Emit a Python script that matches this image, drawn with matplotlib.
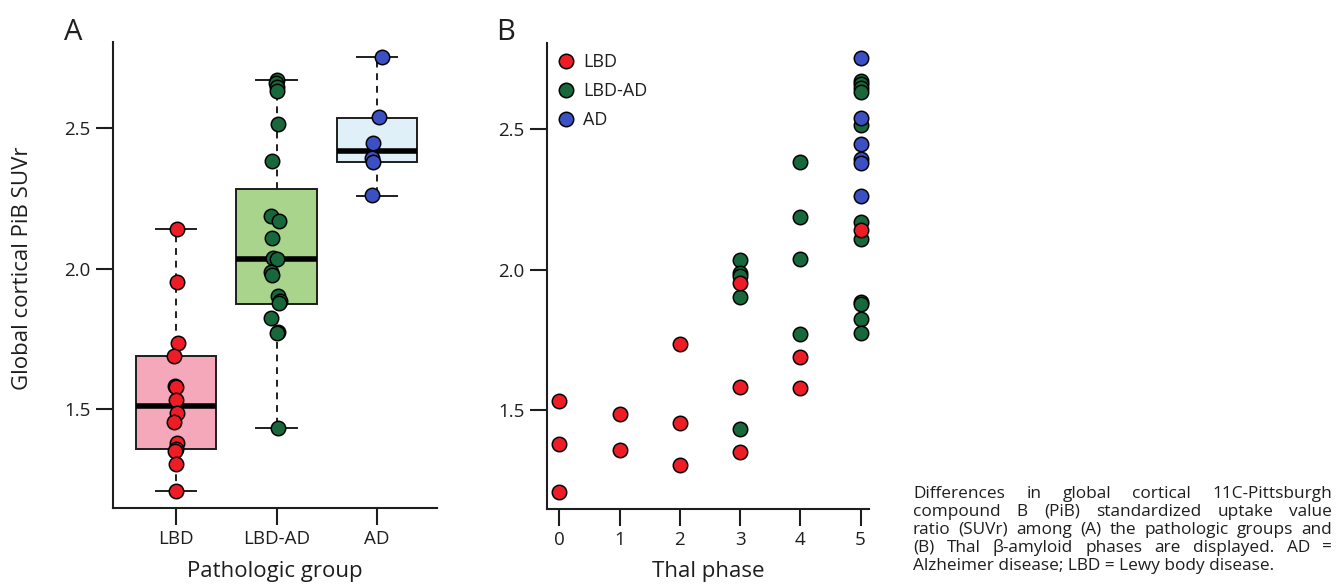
import matplotlib
matplotlib.use("Agg")
import matplotlib.pyplot as plt
from matplotlib.lines import Line2D

plt.rcParams['font.family'] = ['Open Sans', 'DejaVu Sans']

# ---------------- data ----------------
groups = ['LBD', 'LBD-AD', 'AD']

lbd_suvr = [2.139, 1.953, 1.736, 1.688, 1.582, 1.577, 1.532, 1.487, 1.454, 1.381, 1.357, 1.351, 1.306, 1.208]
lbd_thal = [5, 3, 2, 4, 3, 4, 0, 1, 2, 0, 1, 3, 2, 0]
lbd_jitter = [0.01, 0.01, 0.02, -0.02, -0.01, 0.0, 0.0, 0.01, -0.02, 0.01, 0.0, -0.01, 0.0, 0.0]

lbdad_suvr = [2.671, 2.660, 2.645, 2.632, 2.513, 2.381, 2.187, 2.168, 2.110, 2.036,
              2.034, 1.986, 1.978, 1.902, 1.884, 1.876, 1.825, 1.773, 1.769, 1.431]
lbdad_thal = [5, 5, 5, 5, 5, 4, 4, 5, 5, 4, 3, 3, 3, 3, 5, 5, 5, 5, 4, 3]
lbdad_jitter = [0.0, -0.01, 0.0, 0.0, 0.01, -0.04, -0.05, 0.02, -0.04, -0.03,
                0.0, -0.05, -0.04, 0.01, 0.03, 0.02, -0.05, 0.01, 0.0, 0.01]

ad_suvr = [2.752, 2.540, 2.446, 2.392, 2.380, 2.260]
ad_thal = [5, 5, 5, 5, 5, 5]
ad_jitter = [0.05, 0.02, -0.04, -0.05, -0.04, -0.05]

# box statistics
box_whislo = [1.208, 1.431, 2.259]
box_q1 = [1.357, 1.874, 2.380]
box_med = [1.511, 2.034, 2.418]
box_q3 = [1.690, 2.282, 2.537]
box_whishi = [2.139, 2.671, 2.752]

y_ticks = [1.5, 2.0, 2.5]
thal_ticks = [0, 1, 2, 3, 4, 5]

caption_lines = [
    "Differences in global cortical 11C-Pittsburgh",
    "compound B (PiB) standardized uptake value",
    "ratio (SUVr) among (A) the pathologic groups and",
    "(B) Thal \u03b2-amyloid phases are displayed. AD =",
    "Alzheimer disease; LBD = Lewy body disease.",
]

# ---------------- styles ----------------
pt_colors = ['#ee1d25', '#17683a', '#3b50c2']
box_colors = ['#f5a8b9', '#a8d58b', '#dff0f8']
ink = '#1e1e1e'
msize = 108

W, H = 1338, 585
fig = plt.figure(figsize=(W / 100, H / 100), dpi=100)


def px_rect(l, t, r, b):
    return [l / W, 1 - b / H, (r - l) / W, (b - t) / H]


axA = fig.add_axes(px_rect(113, 42, 437, 508))
axB = fig.add_axes(px_rect(547, 43, 869, 509))

for ax in (axA, axB):
    for s in ('top', 'right'):
        ax.spines[s].set_visible(False)
    for s in ('left', 'bottom'):
        ax.spines[s].set_linewidth(1.5)
        ax.spines[s].set_color(ink)
    ax.tick_params(length=12, width=1.5, color=ink, labelcolor=ink, labelsize=13.5, pad=4)
    ax.set_ylim(1.148, 2.806)
    ax.set_yticks(y_ticks)
    ax.set_yticklabels([f"{v:.1f}" for v in y_ticks])

# ---------------- panel A ----------------
stats = []
for i, g in enumerate(groups):
    stats.append(dict(label=g, whislo=box_whislo[i], q1=box_q1[i], med=box_med[i],
                      q3=box_q3[i], whishi=box_whishi[i], fliers=[]))
positions = [1, 2, 3]
bp = axA.bxp(stats, positions=positions, widths=0.8, capwidths=0.4, patch_artist=True,
             showfliers=False,
             boxprops=dict(linewidth=1.4, edgecolor=ink),
             whiskerprops=dict(linewidth=1.4, color=ink, linestyle=(0, (3.5, 3))),
             capprops=dict(linewidth=1.4, color=ink),
             medianprops=dict(linewidth=4, color='black', solid_capstyle='butt'))
for patch, c in zip(bp['boxes'], box_colors):
    patch.set_facecolor(c)

for pos, vals, jit, c in zip(positions, [lbd_suvr, lbdad_suvr, ad_suvr],
                             [lbd_jitter, lbdad_jitter, ad_jitter], pt_colors):
    xs = [pos + j for j in jit]
    axA.scatter(xs, vals, s=msize, color=c, edgecolor='black', linewidth=1.1, zorder=4)

axA.set_xlim(0.373, 3.597)
axA.set_xticks(positions)
axA.set_xticklabels(groups)
axA.set_xlabel('Pathologic group', fontsize=16, color=ink, va='baseline')
axA.xaxis.set_label_coords(0.5, -(577 - 508) / 466)
axA.set_ylabel('Global cortical PiB SUVr', fontsize=16, color=ink, va='center', ha='center')
axA.yaxis.set_label_coords((23 - 113) / 324, (508 - 268) / 466)

# ---------------- panel B ----------------
for thal, vals, c, z in [(lbdad_thal, lbdad_suvr, pt_colors[1], 3),
                         (lbd_thal, lbd_suvr, pt_colors[0], 4),
                         (ad_thal, ad_suvr, pt_colors[2], 5)]:
    axB.scatter(thal, vals, s=msize, color=c, edgecolor='black', linewidth=1.1, zorder=z)

axB.set_xlim(-0.204, 5.14)
axB.set_xticks(thal_ticks)
axB.set_xticklabels([str(t) for t in thal_ticks])
axB.set_xlabel('Thal phase', fontsize=16, color=ink, va='baseline')
axB.xaxis.set_label_coords(0.5, -(577 - 509) / 466)

handles = [Line2D([], [], linestyle='none', marker='o', markersize=10.4, markerfacecolor=c,
                  markeredgecolor='black', markeredgewidth=1.1) for c in pt_colors]
axB.legend(handles, groups, loc='upper left', bbox_to_anchor=(0.032, 0.978), frameon=False,
           fontsize=13, borderpad=0, borderaxespad=0, handlelength=1.0, handletextpad=0.45,
           labelspacing=0.6, labelcolor=ink)

# ---------------- panel letters ----------------
fig.text(73 / W, 1 - 40 / H, 'A', fontsize=21, ha='center', va='baseline', color=ink)
fig.text(506 / W, 1 - 40 / H, 'B', fontsize=21, ha='center', va='baseline', color=ink)

# ---------------- caption (justified) ----------------
renderer = fig.canvas.get_renderer()
cap_left, cap_right = 913, 1332
base0, line_h = 498, 18
cap_fs = 12.4
for i, line in enumerate(caption_lines):
    y = 1 - (base0 + i * line_h) / H
    if i == len(caption_lines) - 1:
        fig.text(cap_left / W, y, line, fontsize=cap_fs, ha='left', va='baseline', color=ink)
        continue
    words = line.split(' ')
    texts = [fig.text(0, y, w, fontsize=cap_fs, ha='left', va='baseline', color=ink) for w in words]
    widths = [t.get_window_extent(renderer).width for t in texts]
    gap = (cap_right - cap_left - sum(widths)) / (len(words) - 1)
    x = cap_left
    for t, w in zip(texts, widths):
        t.set_x(x / W)
        x += w + gap

fig.savefig('out.png', dpi=100)
